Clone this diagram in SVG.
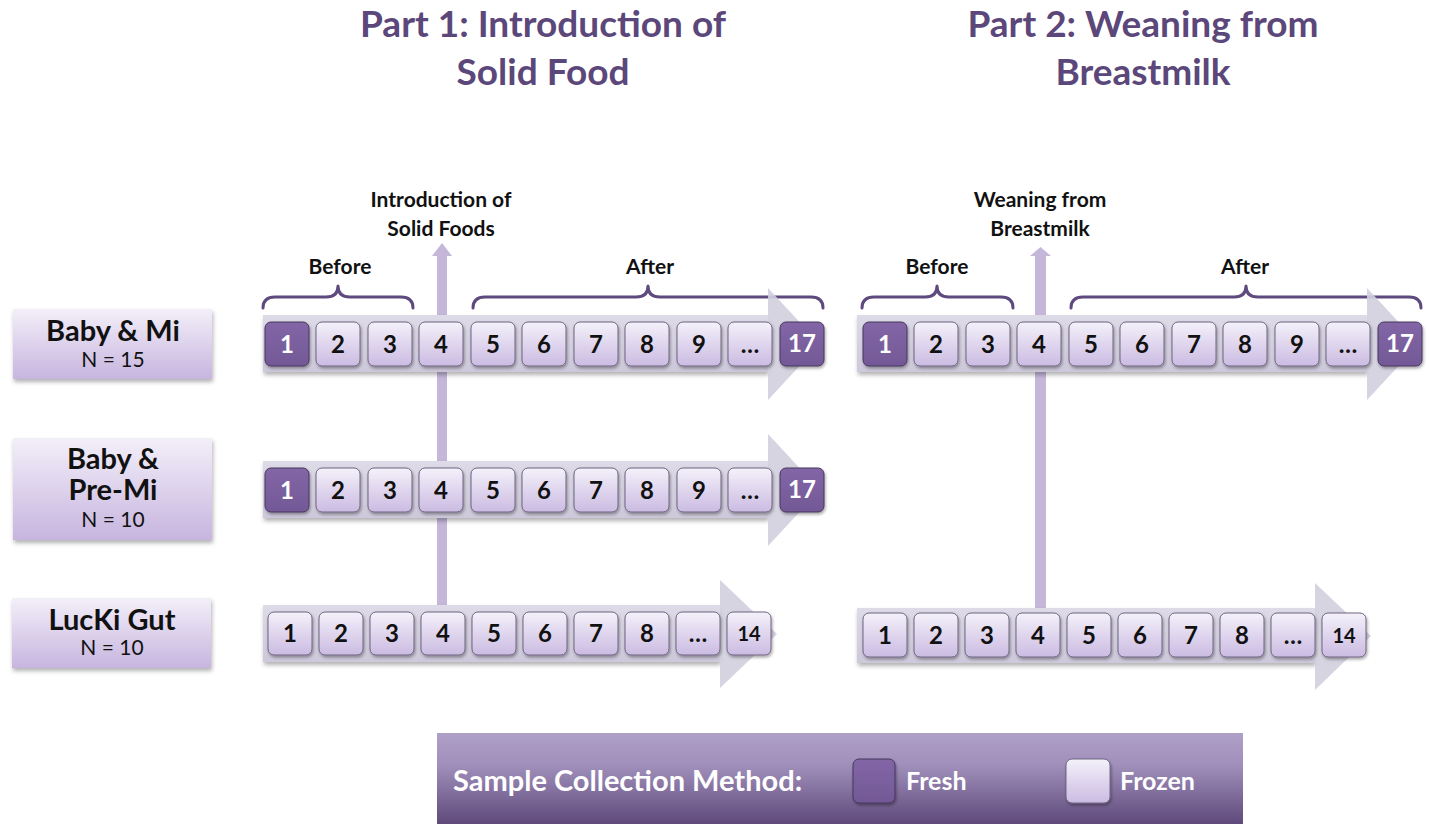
<svg xmlns="http://www.w3.org/2000/svg" width="1429" height="824" viewBox="0 0 1429 824">
<defs>
<linearGradient id="gFrozen" x1="0" y1="0" x2="0" y2="1"><stop offset="0" stop-color="#f4f1fa"/><stop offset="1" stop-color="#cbbbe2"/></linearGradient>
<linearGradient id="gFresh" x1="0" y1="0" x2="0" y2="1"><stop offset="0" stop-color="#8266a6"/><stop offset="1" stop-color="#735896"/></linearGradient>
<linearGradient id="gLabel" x1="0" y1="0" x2="0" y2="1"><stop offset="0" stop-color="#f3eff9"/><stop offset="1" stop-color="#c7b5df"/></linearGradient>
<linearGradient id="gBand" x1="0" y1="0" x2="0" y2="1"><stop offset="0" stop-color="#dedbe8"/><stop offset="1" stop-color="#cdc8da"/></linearGradient>
<linearGradient id="gLegend" x1="0" y1="0" x2="0" y2="1"><stop offset="0" stop-color="#afa0c7"/><stop offset="0.35" stop-color="#a08fbb"/><stop offset="1" stop-color="#5f4a7b"/></linearGradient>
<filter id="sh" x="-20%" y="-20%" width="140%" height="150%"><feDropShadow dx="1" dy="2" stdDeviation="1.5" flood-color="#000" flood-opacity="0.35"/></filter>
<filter id="shL" x="-10%" y="-10%" width="120%" height="130%"><feDropShadow dx="1" dy="3" stdDeviation="2" flood-color="#000" flood-opacity="0.3"/></filter>
</defs>
<style>
.title{font-family:Lato,"Open Sans",sans-serif;font-weight:bold;font-size:37px;fill:#5b477a;text-anchor:middle;}
.lbl{font-family:Lato,"Open Sans",sans-serif;font-weight:bold;font-size:21px;fill:#111;text-anchor:middle;}
.fz{fill:url(#gFrozen);stroke:#6f6580;stroke-width:1;filter:url(#sh);}
.fr{fill:url(#gFresh);stroke:#46365c;stroke-width:1;filter:url(#sh);}
.num{font-family:Lato,"Open Sans",sans-serif;font-weight:bold;font-size:24px;fill:#111;text-anchor:middle;}
.numw{font-family:Lato,"Open Sans",sans-serif;font-weight:bold;font-size:24px;fill:#fff;text-anchor:middle;}
.num14{font-family:Lato,"Open Sans",sans-serif;font-weight:bold;font-size:20px;fill:#111;text-anchor:middle;}
.band{fill:url(#gBand);}
.head{fill:#d3cfdf;opacity:0.9;}
.brace{fill:none;stroke:#5e4a7e;stroke-width:3;stroke-linecap:round;stroke-linejoin:round;}
.vshaft{fill:#c5b7da;}
.lbox{fill:url(#gLabel);filter:url(#shL);}
.lname{font-family:Lato,"Open Sans",sans-serif;font-weight:bold;font-size:29px;fill:#111;text-anchor:middle;}
.ln{font-family:Lato,"Open Sans",sans-serif;font-size:21px;fill:#111;text-anchor:middle;}
.leg{font-family:Lato,"Open Sans",sans-serif;font-weight:bold;fill:#fff;}
</style>
<rect width="1429" height="824" fill="#fff"/>

<g id="titles">
<text class="title" x="543" y="37">Part 1: Introduction of</text>
<text class="title" x="543" y="85">Solid Food</text>
<text class="title" x="1143" y="37">Part 2: Weaning from</text>
<text class="title" x="1143" y="85">Breastmilk</text>
</g>

<g id="connectors">
<rect class="vshaft" x="437" y="255" width="10" height="350"/>
<polygon class="vshaft" points="432,256 442,243 452,256"/>
<rect class="vshaft" x="1035" y="255" width="11" height="353"/>
<polygon class="vshaft" points="1030,256 1040.5,247 1051,256"/>
<path class="brace" d="M263,308 Q263,297 275,297 L326,297 Q338,297 338,286 Q338,297 350,297 L401,297 Q413,297 413,308"/>
<path class="brace" d="M473,308 Q473,297 485,297 L636,297 Q648,297 648,286 Q648,297 660,297 L811,297 Q823,297 823,308"/>
<path class="brace" d="M862,308 Q862,297 874,297 L925,297 Q937,297 937,286 Q937,297 949,297 L1001,297 Q1013,297 1013,308"/>
<path class="brace" d="M1071,308 Q1071,297 1083,297 L1234,297 Q1246,297 1246,286 Q1246,297 1258,297 L1409,297 Q1421,297 1421,308"/>
</g>

<g id="event-labels">
<text class="lbl" x="441" y="207">Introduction of</text>
<text class="lbl" x="441" y="236">Solid Foods</text>
<text class="lbl" x="340" y="274">Before</text>
<text class="lbl" x="650" y="274">After</text>
<text class="lbl" x="1040" y="207">Weaning from</text>
<text class="lbl" x="1040" y="236">Breastmilk</text>
<text class="lbl" x="937" y="274">Before</text>
<text class="lbl" x="1245" y="274">After</text>
</g>

<g id="label-baby-mi">
<rect class="lbox" x="13" y="309" width="199" height="70"/>
<text class="lname" x="113" y="341">Baby &amp; Mi</text>
<text class="ln" x="113" y="367">N = 15</text>
</g>
<g id="label-baby-premi">
<rect class="lbox" x="13" y="438" width="199" height="102"/>
<text class="lname" x="113" y="469">Baby &amp;</text>
<text class="lname" x="113" y="500">Pre-Mi</text>
<text class="ln" x="113" y="527">N = 10</text>
</g>
<g id="label-lucki">
<rect class="lbox" x="12" y="598" width="199" height="70"/>
<text class="lname" x="112" y="630">LucKi Gut</text>
<text class="ln" x="112" y="655">N = 10</text>
</g>

<g id="timeline-p1-babymi">
<rect class="band" x="263" y="315" width="505" height="57" filter="url(#shL)"/>
<polygon class="head" points="768,288 820,344 768,400"/>
<rect class="fr" x="265" y="322" width="44" height="44" rx="6"/><text class="numw" x="287" y="353">1</text>
<rect class="fz" x="316" y="322" width="44" height="44" rx="6"/><text class="num" x="338" y="353">2</text>
<rect class="fz" x="368" y="322" width="44" height="44" rx="6"/><text class="num" x="390" y="353">3</text>
<rect class="fz" x="419" y="322" width="44" height="44" rx="6"/><text class="num" x="441" y="353">4</text>
<rect class="fz" x="471" y="322" width="44" height="44" rx="6"/><text class="num" x="493" y="353">5</text>
<rect class="fz" x="522" y="322" width="44" height="44" rx="6"/><text class="num" x="544" y="353">6</text>
<rect class="fz" x="574" y="322" width="44" height="44" rx="6"/><text class="num" x="596" y="353">7</text>
<rect class="fz" x="625" y="322" width="44" height="44" rx="6"/><text class="num" x="647" y="353">8</text>
<rect class="fz" x="677" y="322" width="44" height="44" rx="6"/><text class="num" x="699" y="353">9</text>
<rect class="fz" x="728" y="322" width="44" height="44" rx="6"/><text class="num" x="750" y="353">…</text>
<rect class="fr" x="780" y="322" width="44" height="44" rx="6"/><text class="numw" x="802" y="352">17</text>
</g>

<g id="timeline-p1-babypremi">
<rect class="band" x="263" y="461" width="505" height="57" filter="url(#shL)"/>
<polygon class="head" points="768,434 820,490 768,546"/>
<rect class="fr" x="265" y="468" width="44" height="44" rx="6"/><text class="numw" x="287" y="499">1</text>
<rect class="fz" x="316" y="468" width="44" height="44" rx="6"/><text class="num" x="338" y="499">2</text>
<rect class="fz" x="368" y="468" width="44" height="44" rx="6"/><text class="num" x="390" y="499">3</text>
<rect class="fz" x="419" y="468" width="44" height="44" rx="6"/><text class="num" x="441" y="499">4</text>
<rect class="fz" x="471" y="468" width="44" height="44" rx="6"/><text class="num" x="493" y="499">5</text>
<rect class="fz" x="522" y="468" width="44" height="44" rx="6"/><text class="num" x="544" y="499">6</text>
<rect class="fz" x="574" y="468" width="44" height="44" rx="6"/><text class="num" x="596" y="499">7</text>
<rect class="fz" x="625" y="468" width="44" height="44" rx="6"/><text class="num" x="647" y="499">8</text>
<rect class="fz" x="677" y="468" width="44" height="44" rx="6"/><text class="num" x="699" y="499">9</text>
<rect class="fz" x="728" y="468" width="44" height="44" rx="6"/><text class="num" x="750" y="499">…</text>
<rect class="fr" x="780" y="468" width="44" height="44" rx="6"/><text class="numw" x="802" y="498">17</text>
</g>

<g id="timeline-p1-lucki">
<rect class="band" x="263" y="605" width="457" height="57" filter="url(#shL)"/>
<polygon class="head" points="720,580 777,634 720,688"/>
<rect class="fz" x="268" y="612" width="44" height="43" rx="6"/><text class="num" x="290" y="642">1</text>
<rect class="fz" x="319" y="612" width="44" height="43" rx="6"/><text class="num" x="341" y="642">2</text>
<rect class="fz" x="370" y="612" width="44" height="43" rx="6"/><text class="num" x="392" y="642">3</text>
<rect class="fz" x="421" y="612" width="44" height="43" rx="6"/><text class="num" x="443" y="642">4</text>
<rect class="fz" x="472" y="612" width="44" height="43" rx="6"/><text class="num" x="494" y="642">5</text>
<rect class="fz" x="523" y="612" width="44" height="43" rx="6"/><text class="num" x="545" y="642">6</text>
<rect class="fz" x="574" y="612" width="44" height="43" rx="6"/><text class="num" x="596" y="642">7</text>
<rect class="fz" x="625" y="612" width="44" height="43" rx="6"/><text class="num" x="647" y="642">8</text>
<rect class="fz" x="676" y="612" width="44" height="43" rx="6"/><text class="num" x="698" y="642">…</text>
<rect class="fz" x="727" y="612" width="44" height="43" rx="6"/><text class="num14" x="749" y="641">14</text>
</g>

<g id="timeline-p2-babymi">
<rect class="band" x="857" y="315" width="510" height="57" filter="url(#shL)"/>
<polygon class="head" points="1367,288 1419,344 1367,400"/>
<rect class="fr" x="863" y="322" width="44" height="44" rx="6"/><text class="numw" x="885" y="353">1</text>
<rect class="fz" x="914" y="322" width="44" height="44" rx="6"/><text class="num" x="936" y="353">2</text>
<rect class="fz" x="966" y="322" width="44" height="44" rx="6"/><text class="num" x="988" y="353">3</text>
<rect class="fz" x="1017" y="322" width="44" height="44" rx="6"/><text class="num" x="1039" y="353">4</text>
<rect class="fz" x="1069" y="322" width="44" height="44" rx="6"/><text class="num" x="1091" y="353">5</text>
<rect class="fz" x="1120" y="322" width="44" height="44" rx="6"/><text class="num" x="1142" y="353">6</text>
<rect class="fz" x="1172" y="322" width="44" height="44" rx="6"/><text class="num" x="1194" y="353">7</text>
<rect class="fz" x="1223" y="322" width="44" height="44" rx="6"/><text class="num" x="1245" y="353">8</text>
<rect class="fz" x="1275" y="322" width="44" height="44" rx="6"/><text class="num" x="1297" y="353">9</text>
<rect class="fz" x="1326" y="322" width="44" height="44" rx="6"/><text class="num" x="1348" y="353">…</text>
<rect class="fr" x="1378" y="322" width="44" height="44" rx="6"/><text class="numw" x="1400" y="352">17</text>
</g>

<g id="timeline-p2-lucki">
<rect class="band" x="857" y="608" width="458" height="55" filter="url(#shL)"/>
<polygon class="head" points="1315,583 1371,636 1315,690"/>
<rect class="fz" x="863" y="613" width="44" height="44" rx="6"/><text class="num" x="885" y="644">1</text>
<rect class="fz" x="914" y="613" width="44" height="44" rx="6"/><text class="num" x="936" y="644">2</text>
<rect class="fz" x="965" y="613" width="44" height="44" rx="6"/><text class="num" x="987" y="644">3</text>
<rect class="fz" x="1016" y="613" width="44" height="44" rx="6"/><text class="num" x="1038" y="644">4</text>
<rect class="fz" x="1067" y="613" width="44" height="44" rx="6"/><text class="num" x="1089" y="644">5</text>
<rect class="fz" x="1118" y="613" width="44" height="44" rx="6"/><text class="num" x="1140" y="644">6</text>
<rect class="fz" x="1169" y="613" width="44" height="44" rx="6"/><text class="num" x="1191" y="644">7</text>
<rect class="fz" x="1220" y="613" width="44" height="44" rx="6"/><text class="num" x="1242" y="644">8</text>
<rect class="fz" x="1271" y="613" width="44" height="44" rx="6"/><text class="num" x="1293" y="644">…</text>
<rect class="fz" x="1322" y="613" width="44" height="44" rx="6"/><text class="num14" x="1344" y="643">14</text>
</g>

<g id="legend">
<rect x="437" y="733" width="806" height="91" fill="url(#gLegend)"/>
<text class="leg" x="453" y="791" font-size="29">Sample Collection Method:</text>
<rect class="fr" x="853" y="759" width="42" height="44" rx="6"/>
<text class="leg" x="906" y="790" font-size="25">Fresh</text>
<rect class="fz" x="1066" y="759" width="44" height="44" rx="6"/>
<text class="leg" x="1120" y="790" font-size="25">Frozen</text>
</g>
</svg>
